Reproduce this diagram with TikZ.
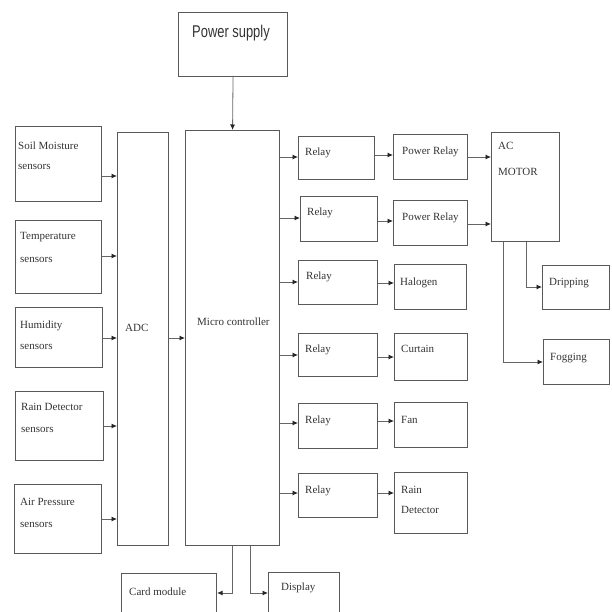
\documentclass[tikz,border=0pt]{standalone}
\usepackage{fontspec}
\setmainfont{Liberation Serif}
\newfontfamily\narrowsans[FakeStretch=0.76]{Liberation Sans}
\usetikzlibrary{arrows.meta}
\tikzset{
  box/.style={draw=black!65, line width=1.1pt, rectangle, inner sep=0pt},
  lbl/.style={anchor=west, inner sep=0pt, font=\fontsize{11}{12}\selectfont, text=black!80},
  arr/.style={draw=black!60, line width=0.8pt, -{Latex[length=5.5pt,width=5pt,black!85]}},
}
\newcommand\bx[5]{\path (#2,#3) coordinate (#1-nw);
  \node[box, minimum width=#4pt-#2pt, minimum height=#5pt-#3pt, anchor=north west] (#1) at (#1-nw) {};}
\begin{document}
\begin{tikzpicture}[x=1pt,y=-1pt]
\useasboundingbox (0,0) rectangle (611,612);
\clip (0,0) rectangle (611,612);
% boxes
\bx{ps}{178}{12}{287}{76}
\bx{mc}{185}{130}{279}{545}
\bx{adc}{117}{132}{168}{545}
\bx{soil}{15}{126}{101}{201}
\bx{temp}{15}{220}{101}{293}
\bx{hum}{15}{307}{102}{367}
\bx{rain}{15}{391}{103}{460}
\bx{air}{14}{484}{101}{553}
\bx{card}{121}{573}{216}{630}
\bx{disp}{268}{572}{339}{630}
\bx{ra}{298}{136}{374}{179}
\bx{pra}{393}{134}{467}{179}
\bx{ac}{491}{132}{559}{241}
\bx{rb}{300}{196}{377}{241}
\bx{prb}{393}{200}{467}{245}
\bx{rc}{298}{260}{377}{304}
\bx{hal}{394}{264}{466}{309}
\bx{drip}{542}{265}{609}{309}
\bx{fog}{543}{339}{609}{384}
\bx{rd}{298}{333}{377}{376}
\bx{cur}{394}{333}{467}{380}
\bx{re}{298}{403}{377}{448}
\bx{fan}{394}{402}{467}{447}
\bx{rf}{298}{473}{377}{517}
\bx{rdet}{394}{472}{467}{533}
% texts
\node[anchor=west, inner sep=0pt, font=\narrowsans\fontsize{17}{18}\selectfont, text=black!80] (tps) at (192,33) {Power supply};
\node[lbl] (t1) at (18,146) {Soil Moisture};
\node[lbl] (t1b) at (18,167) {sensors};
\node[lbl] (t2) at (20,237) {Temperature};
\node[lbl] (t2b) at (20,260) {sensors};
\node[lbl] (t3) at (20,326) {Humidity};
\node[lbl] (t3b) at (20,347) {sensors};
\node[lbl] (t4) at (21,407) {Rain Detector};
\node[lbl] (t4b) at (21,430) {sensors};
\node[lbl] (t5) at (20,502) {Air Pressure};
\node[lbl] (t5b) at (20,525) {sensors};
\node[lbl] (tadc) at (125,328) {ADC};
\node[lbl] (tmc) at (197,322) {Micro controller};
\node[lbl] (tra) at (305,153) {Relay};
\node[lbl] (trb) at (307,213) {Relay};
\node[lbl] (trc) at (306,277) {Relay};
\node[lbl] (trd) at (305,350) {Relay};
\node[lbl] (tre) at (305,421) {Relay};
\node[lbl] (trf) at (305,491) {Relay};
\node[lbl] (tpra) at (402,152) {Power Relay};
\node[lbl] (tprb) at (402,218) {Power Relay};
\node[lbl] (tac) at (498,146) {AC};
\node[lbl] (tacb) at (498,172) {MOTOR};
\node[lbl] (thal) at (400,283) {Halogen};
\node[lbl] (tcur) at (401,349) {Curtain};
\node[lbl] (tfan) at (401,420) {Fan};
\node[lbl] (trdet) at (401,490) {Rain};
\node[lbl] (trdetb) at (401,510) {Detector};
\node[lbl] (tdrip) at (549,283) {Dripping};
\node[lbl] (tfog) at (550,358) {Fogging};
\node[lbl] (tcard) at (129,592) {Card module};
\node[lbl] (tdisp) at (281,588) {Display};
% connectors
\draw[arr] (ps.south |- 0,76) -- (mc.north |- 0,130);
\draw[arr] (soil.east |- 0,176) -- (adc.west |- 0,176);
\draw[arr] (temp.east |- 0,256) -- (adc.west |- 0,256);
\draw[arr] (hum.east |- 0,338) -- (adc.west |- 0,338);
\draw[arr] (rain.east |- 0,426) -- (adc.west |- 0,426);
\draw[arr] (air.east |- 0,519) -- (adc.west |- 0,519);
\draw[arr] (adc.east |- 0,338) -- (mc.west |- 0,338);
\draw[arr] (mc.east |- 0,157) -- (ra.west |- 0,157);
\draw[arr] (mc.east |- 0,218) -- (rb.west |- 0,218);
\draw[arr] (mc.east |- 0,282) -- (rc.west |- 0,282);
\draw[arr] (mc.east |- 0,355) -- (rd.west |- 0,355);
\draw[arr] (mc.east |- 0,423) -- (re.west |- 0,423);
\draw[arr] (mc.east |- 0,493) -- (rf.west |- 0,493);
\draw[arr] (ra.east |- 0,155) -- (pra.west |- 0,155);
\draw[arr] (rb.east |- 0,221) -- (prb.west |- 0,221);
\draw[arr] (rc.east |- 0,283) -- (hal.west |- 0,283);
\draw[arr] (rd.east |- 0,357) -- (cur.west |- 0,357);
\draw[arr] (re.east |- 0,421) -- (fan.west |- 0,421);
\draw[arr] (rf.east |- 0,493) -- (rdet.west |- 0,493);
\draw[arr] (pra.east |- 0,157) -- (ac.west |- 0,157);
\draw[arr] (prb.east |- 0,224) -- (ac.west |- 0,224);
\draw[arr] (ac.south -| 526,0) |- (drip.west |- 0,287);
\draw[arr] (ac.south -| 503,0) |- (fog.west |- 0,362);
\draw[arr] (mc.south -| 232,0) |- (card.east |- 0,593);
\draw[arr] (mc.south -| 250,0) |- (disp.west |- 0,593);
\end{tikzpicture}
\end{document}
